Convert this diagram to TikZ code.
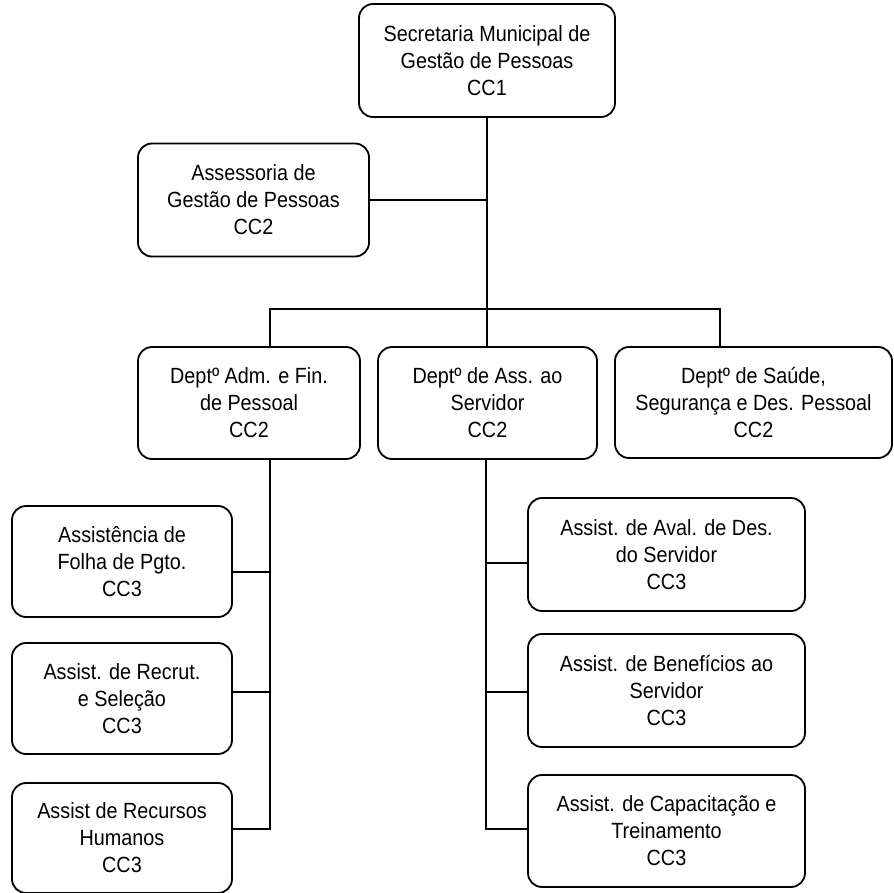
\documentclass[tikz,border=0pt]{standalone}
\usepackage{fontspec}
\setmainfont{Liberation Sans}[FakeStretch=0.9]
\begin{document}
\begin{tikzpicture}[x=1pt,y=-1pt,
  box/.style={draw,line width=1.8pt,rounded corners=14pt,align=center,inner sep=0pt,
    font=\fontsize{22}{27}\selectfont},
  link/.style={line width=1.8pt}]
\useasboundingbox (0,0) rectangle (894,892);
\clip (0,0) rectangle (894,892);
\node[box,minimum width=256pt,minimum height=113pt] (top) at (487,60.5) {Secretaria Municipal de\\Gestão de Pessoas\\CC1};
\node[box,minimum width=231pt,minimum height=113pt] (asse) at (253.5,200) {Assessoria de\\Gestão de Pessoas\\CC2};
\node[box,minimum width=222pt,minimum height=112pt] (d1) at (249,403) {Deptº Adm. e Fin.\\de Pessoal\\CC2};
\node[box,minimum width=219pt,minimum height=112pt] (d2) at (487.5,403) {Deptº de Ass. ao\\Servidor\\CC2};
\node[box,minimum width=277pt,minimum height=111pt] (d3) at (753.5,402.5) {Deptº de Saúde,\\Segurança e Des. Pessoal\\CC2};
\node[box,minimum width=220pt,minimum height=111pt] (c1) at (122,561.5) {Assistência de\\Folha de Pgto.\\CC3};
\node[box,minimum width=220pt,minimum height=111pt] (c2) at (122,698.5) {Assist. de Recrut.\\e Seleção\\CC3};
\node[box,minimum width=220pt,minimum height=110pt] (c3) at (122,838) {Assist de Recursos\\Humanos\\CC3};
\node[box,minimum width=277pt,minimum height=113pt] (r1) at (666.5,554.5) {Assist. de Aval. de Des.\\do Servidor\\CC3};
\node[box,minimum width=277pt,minimum height=113pt] (r2) at (666.5,690.5) {Assist. de Benefícios ao\\Servidor\\CC3};
\node[box,minimum width=277pt,minimum height=112pt] (r3) at (666.5,831) {Assist. de Capacitação e\\Treinamento\\CC3};
\coordinate (bus) at (487,309);
\draw[link] (top.south) -- (top.south |- d2.north);
\draw[link] (asse.east) -- (asse.east -| top.south);
\draw[link] ([xshift=21pt]d1.north) |- (bus) -| ([xshift=-33.5pt]d3.north);
\draw[link] ([xshift=21pt]d1.south) |- ([yshift=9pt]c3.east);
\draw[link] ([yshift=-10.5pt]c1.east) -- ++(38,0);
\draw[link] ([yshift=6.5pt]c2.east) -- ++(38,0);
\draw[link] ([xshift=-1.5pt]d2.south) |- ([yshift=2pt]r3.west);
\draw[link] ([yshift=-8.5pt]r1.west) -- ++(-42,0);
\draw[link] ([yshift=-1.5pt]r2.west) -- ++(-42,0);
\end{tikzpicture}
\end{document}
